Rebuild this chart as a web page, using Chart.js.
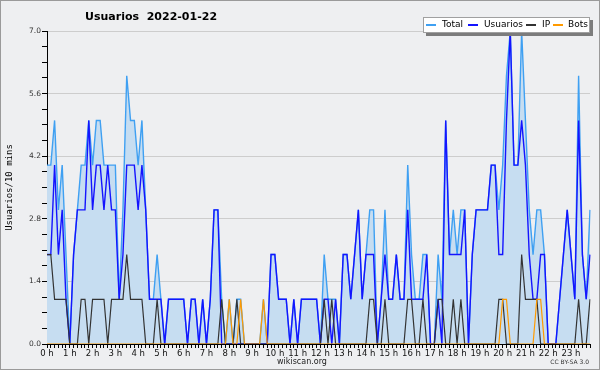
<!DOCTYPE html>
<html><head><meta charset="utf-8">
<script src="https://cdn.jsdelivr.net/npm/chart.js@4.4.0/dist/chart.umd.min.js"></script>
<style>
html,body{margin:0;padding:0;background:#eeeff1;}
#wrap{position:relative;width:600px;height:370px;overflow:hidden;background:#eeeff1;}
#c{position:absolute;left:0;top:0;}
#frame{position:absolute;left:0;top:0;width:600px;height:370px;box-sizing:border-box;border:1px solid #9a9a9a;pointer-events:none;}
#title{position:absolute;left:85px;top:9px;font:bold 11px "DejaVu Sans";white-space:pre;color:#000;line-height:16px;}
#legendBox{position:absolute;left:423px;top:17px;width:167px;height:16px;box-sizing:border-box;background:#fff;border:1px solid #a0a0a0;box-shadow:3px 3px 0 #7c7c7c;}
.lg-line{position:absolute;height:1.5px;width:10px;top:24px;}
.lg-text{position:absolute;top:18px;font:9px "DejaVu Sans";color:#000;line-height:12px;white-space:nowrap;}
#site{position:absolute;left:0;width:600px;text-align:center;top:356px;font:8px "DejaVu Sans";color:#222;line-height:11px;padding-left:2px;}
#lic{position:absolute;right:11px;top:358px;font:6px "DejaVu Sans";color:#333;line-height:8px;}
</style></head>
<body>
<div id="wrap">
<canvas id="c" width="600" height="370"></canvas>
<div id="title">Usuarios  2022-01-22</div>
<div id="legendBox"></div>
<div id="legendItems"></div>
<div id="site">wikiscan.org</div>
<div id="lic">CC BY-SA 3.0</div>
<div id="frame"></div>
</div>
<script>
// ---- data (10-minute slots, 00:00 .. 23:50) ----
const hourLabels = ['0 h','1 h','2 h','3 h','4 h','5 h','6 h','7 h','8 h','9 h','10 h','11 h','12 h','13 h','14 h','15 h','16 h','17 h','18 h','19 h','20 h','21 h','22 h','23 h'];
const yTickLabels = ['0.0','1.4','2.8','4.2','5.6','7.0'];
const seriesNames = ['Total','Usuarios','IP','Bots'];

const total = [
 4,4,5,3,4,2,0,2,3,4,
 4,5,4,5,5,4,4,4,4,1,
 3,6,5,5,4,5,3,1,1,2,
 1,0,1,1,1,1,1,0,1,1,
 0,1,0,1,3,3,1,0,1,0,
 1,1,0,0,0,0,0,1,0,2,
 2,1,1,1,0,1,0,1,1,1,
 1,1,0,2,1,1,1,0,2,2,
 1,2,3,1,2,3,3,0,1,3,
 1,1,2,1,1,4,2,1,1,2,
 2,0,0,2,1,5,2,3,2,3,
 3,0,2,3,3,3,3,4,4,3,
 4,6,7,4,4,7,5,3,2,3,
 3,2,0,0,0,1,2,3,2,1,
 6,2,1,3];
const usuarios = [
 2,2,4,2,3,1,0,2,3,3,
 3,5,3,4,4,3,4,3,3,1,
 2,4,4,4,3,4,3,1,1,1,
 1,0,1,1,1,1,1,0,1,1,
 0,1,0,1,3,3,0,0,0,0,
 0,0,0,0,0,0,0,0,0,2,
 2,1,1,1,0,1,0,1,1,1,
 1,1,0,1,1,0,1,0,2,2,
 1,2,3,1,2,2,2,0,1,2,
 1,1,2,1,1,3,1,1,1,1,
 2,0,0,1,0,5,2,2,2,2,
 3,0,2,3,3,3,3,4,4,2,
 2,5,7,4,4,5,4,2,1,1,
 2,2,0,0,0,1,2,3,2,1,
 5,2,1,2];
const ip = [
 2,2,1,1,1,1,0,0,0,1,
 1,0,1,1,1,1,0,1,1,1,
 1,2,1,1,1,1,0,0,0,1,
 0,0,0,0,0,0,0,0,0,0,
 0,0,0,0,0,0,1,0,0,0,
 1,0,0,0,0,0,0,0,0,0,
 0,0,0,0,0,0,0,0,0,0,
 0,0,0,1,0,1,0,0,0,0,
 0,0,0,0,0,1,1,0,0,1,
 0,0,0,0,0,1,1,0,0,1,
 0,0,0,1,1,0,0,1,0,1,
 0,0,0,0,0,0,0,0,0,1,
 1,0,0,0,0,2,1,1,1,1,
 0,0,0,0,0,0,0,0,0,0,
 1,0,0,1];
const bots = [
 0,0,0,0,0,0,0,0,0,0,
 0,0,0,0,0,0,0,0,0,0,
 0,0,0,0,0,0,0,0,0,0,
 0,0,0,0,0,0,0,0,0,0,
 0,0,0,0,0,0,0,0,1,0,
 0,1,0,0,0,0,0,1,0,0,
 0,0,0,0,0,0,0,0,0,0,
 0,0,0,0,0,0,0,0,0,0,
 0,0,0,0,0,0,0,0,0,0,
 0,0,0,0,0,0,0,0,0,0,
 0,0,0,0,0,0,0,0,0,0,
 0,0,0,0,0,0,0,0,0,0,
 1,1,0,0,0,0,0,0,0,1,
 1,0,0,0,0,0,0,0,0,0,
 0,0,0,0];

// category labels: one per 10-minute slot
const slotLabels = [];
for (let h = 0; h < 24; h++) for (let m = 0; m < 60; m += 10)
  slotLabels.push(String(h).padStart(2,'0') + ':' + String(m).padStart(2,'0'));

// y ticks: labelled every 1.4, small marks every 0.35
const yMarks = [];
for (let k = 0; k <= 20; k++) yMarks.push(k * 0.35);

const colors = ['#3fa0f2', '#1414ff', '#333333', '#ff9a00'];

// legend (html text)
const legendPos = [[426,442],[468,484],[526,542],[553,568]];
const li = document.getElementById('legendItems');
seriesNames.forEach((n, i) => {
  const l = document.createElement('div'); l.className = 'lg-line';
  l.style.left = legendPos[i][0] + 'px'; l.style.background = colors[i]; li.appendChild(l);
  const t = document.createElement('div'); t.className = 'lg-text';
  t.style.left = legendPos[i][1] + 'px'; t.textContent = n; li.appendChild(t);
});

new Chart(document.getElementById('c'), {
  type: 'line',
  data: {
    labels: slotLabels,
    datasets: [
      {label: seriesNames[0], data: total, borderColor: colors[0], backgroundColor: '#c6ddf1', fill: 'origin', borderWidth: 1.4, order: 4},
      {label: seriesNames[1], data: usuarios, borderColor: colors[1], fill: false, borderWidth: 1.4, order: 3},
      {label: seriesNames[2], data: ip, borderColor: colors[2], fill: false, borderWidth: 1.2, order: 2},
      {label: seriesNames[3], data: bots, borderColor: colors[3], fill: false, borderWidth: 1.2, order: 1}
    ]
  },
  options: {
    responsive: false, animation: false, devicePixelRatio: 1,
    layout: {padding: {left: 0, right: 10, top: 31, bottom: 0}},
    elements: {point: {radius: 0}, line: {tension: 0}},
    plugins: {legend: {display: false}, title: {display: false}, tooltip: {enabled: false}},
    scales: {
      x: {
        type: 'category', offset: false,
        border: {color: '#000', width: 1},
        grid: {drawOnChartArea: false, drawTicks: true, tickLength: 4, tickColor: '#000', tickWidth: 1},
        ticks: {autoSkip: false, maxRotation: 0, minRotation: 0, padding: 1, color: '#111',
          font: {family: 'DejaVu Sans', size: 8.5},
          callback: (v, i) => (i % 6 === 0 ? hourLabels[i / 6] : '')},
        afterFit: s => { s.height = 26; }
      },
      y: {
        min: 0, max: 7,
        border: {color: '#000', width: 1},
        grid: {color: c => (c.index % 4 === 0 ? '#cdcdcd' : 'rgba(0,0,0,0)'), tickColor: '#000', tickLength: 5, lineWidth: 1},
        ticks: {autoSkip: false, padding: 1, color: '#333', font: {family: 'DejaVu Sans', size: 7.5},
          callback: (v, i) => (i % 4 === 0 ? yTickLabels[i / 4] : '')},
        afterBuildTicks: s => { s.ticks = yMarks.map(v => ({value: v})); },
        afterFit: s => { s.width = 47; },
        title: {display: true, text: 'Usuarios/10 mins', color: '#000', font: {family: 'DejaVu Sans Mono', size: 9}, padding: {top: 4, bottom: 0}}
      }
    }
  }
});
</script>
</body></html>
